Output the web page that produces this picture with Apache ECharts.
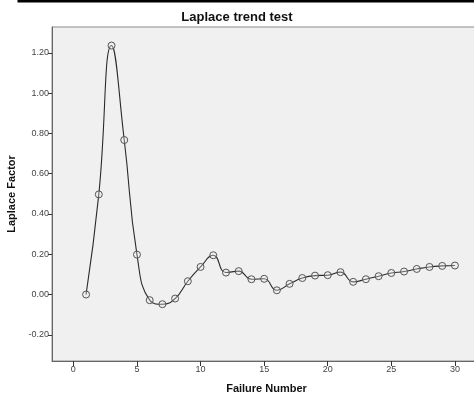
<!DOCTYPE html>
<html>
<head>
<meta charset="utf-8">
<script src="https://cdn.jsdelivr.net/npm/echarts@6/dist/echarts.min.js"></script>
<style>
html,body{margin:0;padding:0;background:#fff;}
#chart{width:474px;height:400px;}
</style>
</head>
<body>
<div id="chart"></div>
<script>
const failureNumbers = [1,2,3,4,5,6,7,8,9,10,11,12,13,14,15,16,17,18,19,20,21,22,23,24,25,26,27,28,29,30];
const laplaceFactor = [0.000,0.497,1.236,0.767,0.198,-0.028,-0.048,-0.020,0.066,0.137,0.195,0.109,0.116,0.076,0.078,0.021,0.053,0.082,0.094,0.096,0.111,0.063,0.076,0.091,0.107,0.114,0.127,0.137,0.142,0.144];
const xTicks = [0,5,10,15,20,25,30];
const yTicks = [-0.2,0,0.2,0.4,0.6,0.8,1.0,1.2];

const chart = echarts.init(document.getElementById('chart'), null, {renderer:'canvas'});
const font = 'Liberation Sans, Arial, sans-serif';
chart.setOption({
  animation:false,
  backgroundColor:'#ffffff',
  title:{
    text:'Laplace trend test',
    left:'center', top:6,
    textStyle:{fontFamily:font,fontSize:13,fontWeight:'bold',color:'#111'}
  },
  graphic:[{
    type:'rect', shape:{x:19,y:-10,width:470,height:11},
    style:{fill:'none',stroke:'#000',lineWidth:3}
  }],
  grid:{
    left:52, top:27, width:429, height:334,
    containLabel:false, outerBoundsMode:'none',
    show:true, backgroundColor:'#f0f0f0', borderColor:'#8c8c8c', borderWidth:1
  },
  xAxis:{
    type:'value', min:-1.68, max:32.05,
    name:'Failure Number', nameLocation:'middle', nameGap:22,
    nameTextStyle:{fontFamily:font,fontSize:11,fontWeight:'bold',color:'#111'},
    axisLine:{show:true,onZero:false,lineStyle:{color:'#666',width:1}},
    axisTick:{show:true,customValues:xTicks,length:5,lineStyle:{color:'#333'}},
    axisLabel:{customValues:xTicks,fontFamily:font,fontSize:9,color:'#444',margin:4},
    splitLine:{show:false}
  },
  yAxis:{
    type:'value', min:-0.33, max:1.328,
    name:'Laplace Factor', nameLocation:'middle', nameGap:34, nameRotate:90,
    nameTextStyle:{fontFamily:font,fontSize:11,fontWeight:'bold',color:'#111'},
    axisLine:{show:true,onZero:false,lineStyle:{color:'#666',width:1}},
    axisTick:{show:true,customValues:yTicks,length:4,lineStyle:{color:'#333'}},
    axisLabel:{customValues:yTicks,fontFamily:font,fontSize:9,color:'#444',margin:3,
      formatter:function(v){return v.toFixed(2);}},
    splitLine:{show:false}
  },
  series:[{
    type:'line',
    data:failureNumbers.map((x,i)=>[x,laplaceFactor[i]]),
    smooth:0.5,
    symbol:'circle', symbolSize:7,
    lineStyle:{color:'#2a2a2a',width:1.1},
    itemStyle:{color:'rgba(240,240,240,0.3)',borderColor:'#555',borderWidth:1}
  }]
});
</script>
</body>
</html>
